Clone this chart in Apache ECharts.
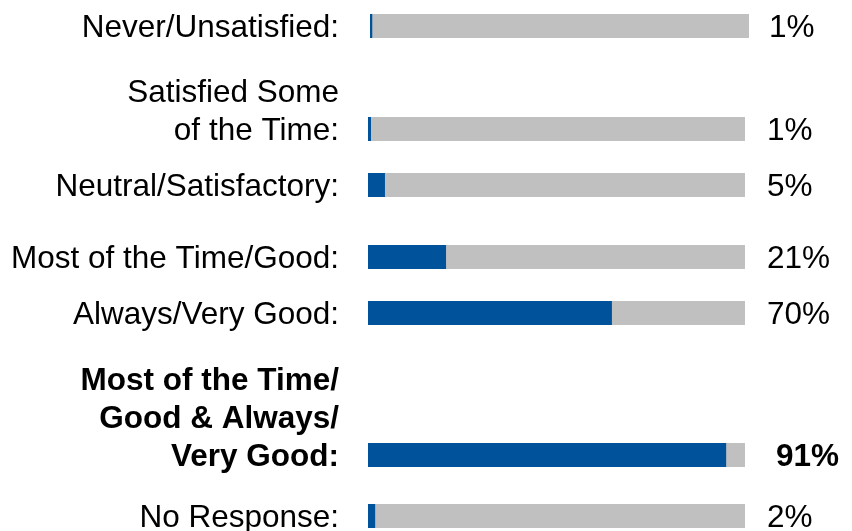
<!DOCTYPE html>
<html>
<head>
<meta charset="utf-8">
<script src="https://cdn.jsdelivr.net/npm/echarts@6/dist/echarts.min.js"></script>
<style>
  html, body { margin: 0; padding: 0; background: #ffffff; }
  #chart { width: 852px; height: 531px; }
</style>
</head>
<body>
<div id="chart"></div>
<script>
// ---- data ----
const categories = [
  'Never/Unsatisfied:',
  'Satisfied Some\nof the Time:',
  'Neutral/Satisfactory:',
  'Most of the Time/Good:',
  'Always/Very Good:',
  'Most of the Time/\nGood & Always/\nVery Good:',
  'No Response:'
];
// percentages as labelled
const shareLabels = [1, 1, 5, 21, 70, 91, 2];
// bar lengths as drawn in the picture (percent of full scale)
const barLengths = [0.6, 0.8, 4.5, 20.7, 64.7, 95, 1.9];
const fullScale = 100;
const boldRows = [false, false, false, false, false, true, false];

// ---- layout (not data) ----
const rowTops = [14, 117, 173, 245, 301, 443, 504];
const rowLefts = [370, 368, 368, 368, 368, 368, 368];
const rowRights = [103, 107, 107, 107, 107, 107, 107];
const rowHeight = 24;
const pctDistance = [20, 22, 22, 22, 22, 31, 22];
const catDistance = [31, 29, 29, 29, 29, 29, 29];
const textShift = 2.5;

const FONT = "'Liberation Sans', Arial, Helvetica, sans-serif";
const BLUE = '#00529B';
const GRAY = '#C0C0C0';

const grid = [], xAxis = [], yAxis = [], series = [];
categories.forEach((cat, i) => {
  grid.push({ left: rowLefts[i], right: rowRights[i], top: rowTops[i], height: rowHeight, containLabel: false });
  xAxis.push({ gridIndex: i, type: 'value', min: 0, max: fullScale, show: false });
  yAxis.push({ gridIndex: i, type: 'category', data: [cat], show: false });
  const bold = boldRows[i];
  series.push({
    type: 'bar', xAxisIndex: i, yAxisIndex: i,
    data: [fullScale], barWidth: rowHeight, barGap: '-100%',
    itemStyle: { color: GRAY },
    silent: true, animation: false,
    label: {
      show: true, position: 'right', distance: pctDistance[i],
      offset: [0, textShift],
      formatter: () => shareLabels[i] + '%',
      color: '#000', fontFamily: FONT, fontSize: 31.5,
      fontWeight: bold ? 'bold' : 'normal'
    }
  });
  series.push({
    type: 'bar', xAxisIndex: i, yAxisIndex: i,
    data: [barLengths[i]], barWidth: rowHeight, barGap: '-100%',
    itemStyle: { color: BLUE },
    silent: true, animation: false,
    label: {
      show: true, position: [-catDistance[i], rowHeight / 2 + 19 + textShift],
      align: 'right', verticalAlign: 'bottom',
      formatter: () => cat, lineHeight: 38,
      color: '#000', fontFamily: FONT, fontSize: 31.5,
      fontWeight: bold ? 'bold' : 'normal'
    }
  });
});

const chart = echarts.init(document.getElementById('chart'), null, { renderer: 'canvas' });
chart.setOption({ animation: false, backgroundColor: '#ffffff', grid, xAxis, yAxis, series });
</script>
</body>
</html>
